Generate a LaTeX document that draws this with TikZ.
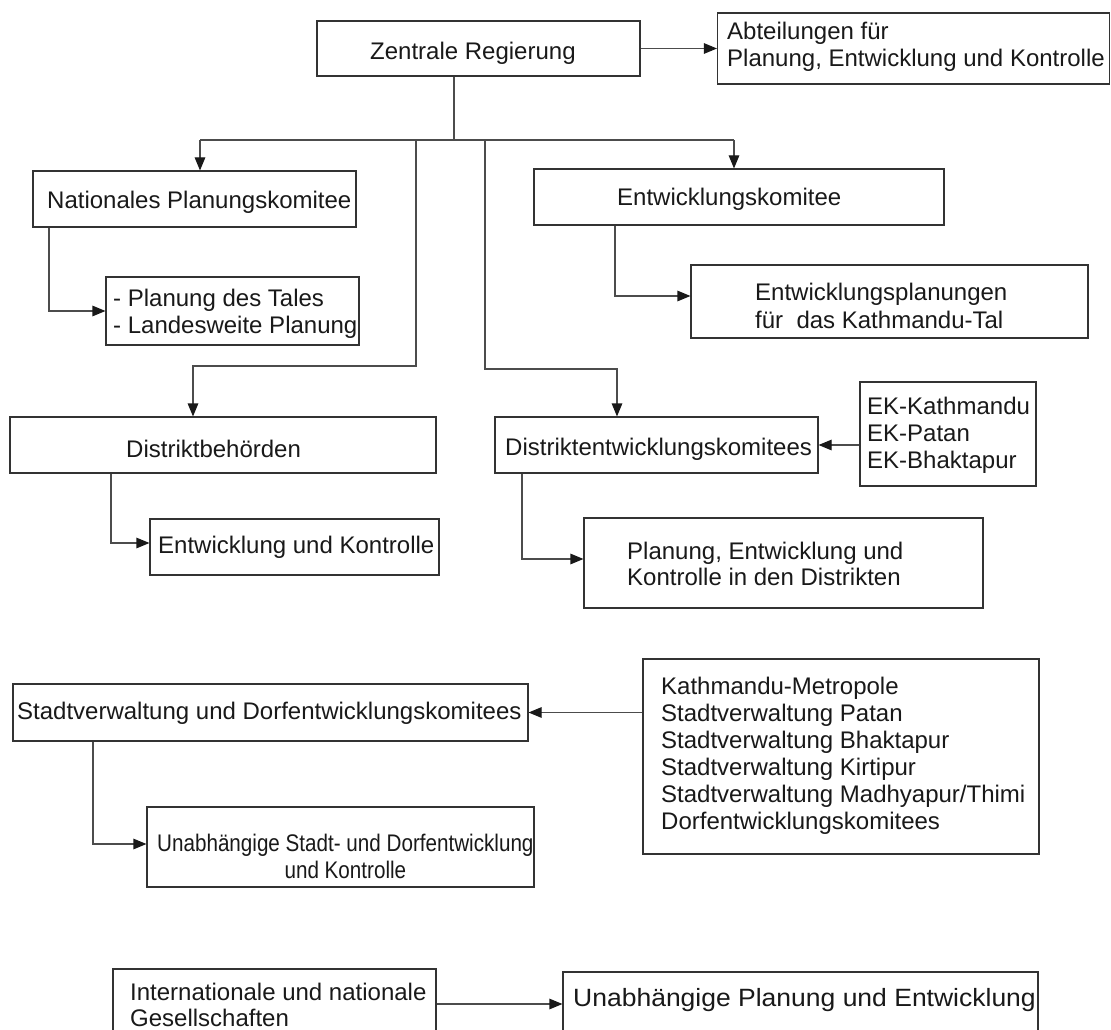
\documentclass[tikz,border=0pt]{standalone}
\usepackage{fontspec}
\setmainfont{Liberation Sans}
\newfontfamily\condfont{Liberation Sans}[FakeStretch=0.86]
\newfontfamily\widefont{Liberation Sans}[FakeStretch=1.06]
\usetikzlibrary{arrows.meta}
\begin{document}
\begin{tikzpicture}[x=1pt,y=-1pt,
  box/.style={draw=black!80,line width=1.1pt,inner sep=0pt,rectangle},
  txt/.style={inner sep=0pt,text=black!90,font=\fontsize{24}{27}\selectfont},
  ln/.style={draw=black!70,line width=1.1pt},
  arr/.style={ln,-{Triangle[length=13pt,width=10.5pt,color=black!90]}}]
\useasboundingbox (0,0) rectangle (1111,1030);
\fill[white] (0,0) rectangle (1111,1030);
\clip (0,0) rectangle (1111,1030);
% boxes
\node[box,minimum width=323pt,minimum height=55pt] (zen) at (478.5,48.5) {};
\node[box,minimum width=392pt,minimum height=71pt] (abt) at (913.5,48.5) {};
\node[box,minimum width=323pt,minimum height=56pt] (nat) at (194.5,199) {};
\node[box,minimum width=253pt,minimum height=68pt] (pdt) at (232.5,311) {};
\node[box,minimum width=410pt,minimum height=56pt] (ek) at (739,197) {};
\node[box,minimum width=397pt,minimum height=73pt] (ekp) at (889.5,301.5) {};
\node[box,minimum width=426pt,minimum height=56pt] (dis) at (223,445) {};
\node[box,minimum width=289pt,minimum height=56pt] (ekl) at (294.5,547) {};
\node[box,minimum width=323pt,minimum height=56pt] (dek) at (656.5,445) {};
\node[box,minimum width=176pt,minimum height=104pt] (ekb) at (948,434) {};
\node[box,minimum width=399pt,minimum height=90pt] (pek) at (783.5,563) {};
\node[box,minimum width=515pt,minimum height=57pt] (stv) at (270.5,712.5) {};
\node[box,minimum width=396pt,minimum height=195pt] (kat) at (841,756.5) {};
\node[box,minimum width=387pt,minimum height=80pt] (ust) at (340.5,847) {};
\node[box,minimum width=323pt,minimum height=76pt] (int) at (274.5,1007) {};
\node[box,minimum width=475pt,minimum height=73pt] (upl) at (800.5,1008.5) {};
% texts
\node[txt,anchor=base west] (tzen) at (370,60) {Zentrale Regierung};
\node[txt,anchor=north west,align=left] (tabt) at (727,21.7) {Abteilungen für\\Planung, Entwicklung und Kontrolle};
\node[txt,anchor=base west] (tnat) at (47,208) {Nationales Planungskomitee};
\node[txt,anchor=north west,align=left] (tpdt) at (113,288.7) {- Planung des Tales\\- Landesweite Planung};
\node[txt,anchor=base west] (tek) at (617,205) {Entwicklungskomitee};
\node[txt,anchor=north west,align=left,font=\fontsize{24}{28}\selectfont] (tekp) at (755,282.7) {Entwicklungsplanungen\\für\ \ das Kathmandu-Tal};
\node[txt,anchor=base west] (tdis) at (126,457) {Distriktbehörden};
\node[txt,anchor=base west] (tekl) at (158,553) {Entwicklung und Kontrolle};
\node[txt,anchor=base west] (tdek) at (505,455) {Distriktentwicklungskomitees};
\node[txt,anchor=north west,align=left] (tekb) at (867,396.7) {EK-Kathmandu\\EK-Patan\\EK-Bhaktapur};
\node[txt,anchor=north west,align=left,font=\fontsize{24}{26}\selectfont] (tpek) at (627,541.7) {Planung, Entwicklung und\\Kontrolle in den Distrikten};
\node[txt,anchor=north west,align=left] (tkat) at (661,676.7) {Kathmandu-Metropole\\Stadtverwaltung Patan\\Stadtverwaltung Bhaktapur\\Stadtverwaltung Kirtipur\\Stadtverwaltung Madhyapur/Thimi\\Dorfentwicklungskomitees};
\node[txt,anchor=base west] (tstv) at (17,719) {Stadtverwaltung und Dorfentwicklungskomitees};
\node[txt,anchor=north west,align=center,font=\condfont\fontsize{24}{27}\selectfont] (tust) at (157,833.7) {Unabhängige Stadt- und Dorfentwicklung\\und Kontrolle};
\node[txt,anchor=north west,align=left,font=\fontsize{24}{26}\selectfont] (tint) at (130,982.7) {Internationale und nationale\\Gesellschaften};
\node[txt,anchor=base west,font=\widefont\fontsize{25}{27}\selectfont] (tupl) at (573,1006) {Unabhängige Planung und Entwicklung};
% connectors
\coordinate (bL) at (200,140);
\coordinate (bR) at (734,140);
\coordinate (bz) at (454,140);
\coordinate (bd) at (416,140);
\coordinate (be) at (485,140);
\coordinate (dk1) at (416,366);
\coordinate (dk2) at (193,366);
\coordinate (ek1) at (485,369);
\coordinate (ek2) at (617,369);
\coordinate (xn) at (49,0);
\coordinate (xe) at (615,0);
\coordinate (xd) at (111,0);
\coordinate (xk) at (522,0);
\coordinate (xs) at (93,0);
\draw[arr] (zen.east) -- (abt.west);
\draw[ln] (zen.south -| bz) -- (bz);
\draw[ln] (bL) -- (bR);
\draw[arr] (bL) -- (bL |- nat.north);
\draw[arr] (bR) -- (bR |- ek.north);
\draw[arr] (bd) -- (dk1) -- (dk2) -- (dk2 |- dis.north);
\draw[arr] (be) -- (ek1) -- (ek2) -- (ek2 |- dek.north);
\draw[arr] (nat.south -| xn) |- (pdt.west);
\draw[arr] (ek.south -| xe) |- ([yshift=5.5pt]ekp.west);
\draw[arr] (dis.south -| xd) |- ([yshift=4pt]ekl.west);
\draw[arr] (dek.south -| xk) |- ([yshift=4pt]pek.west);
\draw[arr] (ekb.west |- dek.east) -- (dek.east);
\draw[arr] (kat.west |- stv.east) -- (stv.east);
\draw[arr] (stv.south -| xs) |- ([yshift=3pt]ust.west);
\draw[arr] ([yshift=3pt]int.east) -- ([yshift=3pt]int.east -| upl.west);
\end{tikzpicture}
\end{document}
